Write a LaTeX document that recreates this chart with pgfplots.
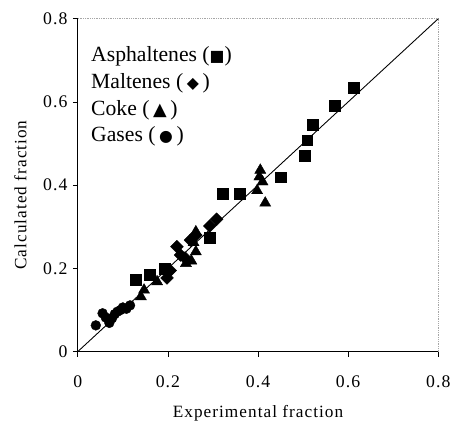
\documentclass[border=0pt]{standalone}
\usepackage{fontspec}
\setmainfont{Liberation Serif}
\newfontfamily\spaced[LetterSpace=6]{Liberation Serif}
\newfontfamily\sym{DejaVu Sans}
\usepackage{pgfplots}
\pgfplotsset{compat=1.18}

\begin{document}
\begin{tikzpicture}
\begin{axis}[
  scale only axis, width=366pt, height=338pt,
  xmin=0, xmax=0.8, ymin=0, ymax=0.8,
  xtick={0,0.2,0.4,0.6,0.8}, ytick={0,0.2,0.4,0.6,0.8},
  axis x line*=bottom, axis y line*=left,
  axis line style={black, line width=0.9pt, -},
  tick align=outside, major tick length=5pt,
  tick style={black, line width=0.8pt},
  /pgf/number format/assume math mode=true,
  xticklabel style={font=\spaced\fontsize{18}{18}\selectfont, yshift=-16pt},
  yticklabel style={font=\spaced\fontsize{18}{18}\selectfont, xshift=-2pt},
  xlabel={Experimental fraction}, ylabel={Calculated fraction},
  label style={font=\spaced\fontsize{17.5}{17.5}\selectfont},
  xlabel style={yshift=-11pt},
  ylabel style={yshift=10pt, xshift=-10pt},
  clip=false,
]
\coordinate (bl) at (rel axis cs:0,0);
\coordinate (tr) at (rel axis cs:1,1);
\draw[gray!70, densely dotted, line width=0.8pt] (rel axis cs:0,1) -- (rel axis cs:1,1) -- (rel axis cs:1,0);

\addplot[black, line width=0.9pt] coordinates {(0,0) (0.8,0.8)};

% asphaltenes
\addplot[only marks, mark=square*, mark size=5.5pt, black] coordinates {
(0.128,0.172)(0.160,0.185)(0.193,0.199)(0.293,0.273)(0.321,0.380)(0.359,0.380)
(0.451,0.419)(0.504,0.470)(0.509,0.508)(0.521,0.546)(0.570,0.590)(0.613,0.635)};
% maltenes
\addplot[only marks, mark=square*, mark size=4.6pt, mark options={rotate=45}, black] coordinates {
(0.198,0.177)(0.205,0.195)(0.220,0.252)(0.228,0.232)(0.238,0.225)(0.250,0.268)
(0.262,0.280)(0.293,0.302)(0.308,0.318)};
% coke
\addplot[only marks, mark=triangle*, mark size=6.5pt, black] coordinates {
(0.140,0.132)(0.147,0.148)(0.176,0.168)(0.240,0.212)(0.252,0.218)(0.262,0.240)
(0.257,0.262)(0.262,0.288)(0.398,0.387)(0.403,0.420)(0.405,0.436)(0.410,0.408)(0.416,0.357)};
% gases
\addplot[only marks, mark=*, mark size=5pt, black] coordinates {
(0.040,0.063)(0.055,0.092)(0.062,0.082)(0.070,0.069)(0.076,0.080)(0.082,0.090)
(0.088,0.096)(0.095,0.100)(0.100,0.106)(0.108,0.103)(0.116,0.111)};

\node[anchor=base west, font=\fontsize{22}{22}\selectfont] at (axis cs:0.022,0.696) {Asphaltenes ({\sym\fontsize{16}{16}\selectfont■})};
\node[anchor=base west, font=\fontsize{22}{22}\selectfont] at (axis cs:0.022,0.632) {Maltenes (\,{\sym\fontsize{16}{16}\selectfont◆}\,)};
\node[anchor=base west, font=\fontsize{22}{22}\selectfont] at (axis cs:0.022,0.568) {Coke (\,{\sym\fontsize{18}{18}\selectfont▲}\,)};
\node[anchor=base west, font=\fontsize{22}{22}\selectfont] at (axis cs:0.022,0.506) {Gases (\,{\sym\fontsize{16}{16}\selectfont●}\,)};
\end{axis}
\pgfresetboundingbox
\path ([shift={(-79pt,-70pt)}]bl) rectangle ([shift={(17pt,19pt)}]tr);
\end{tikzpicture}
\end{document}
